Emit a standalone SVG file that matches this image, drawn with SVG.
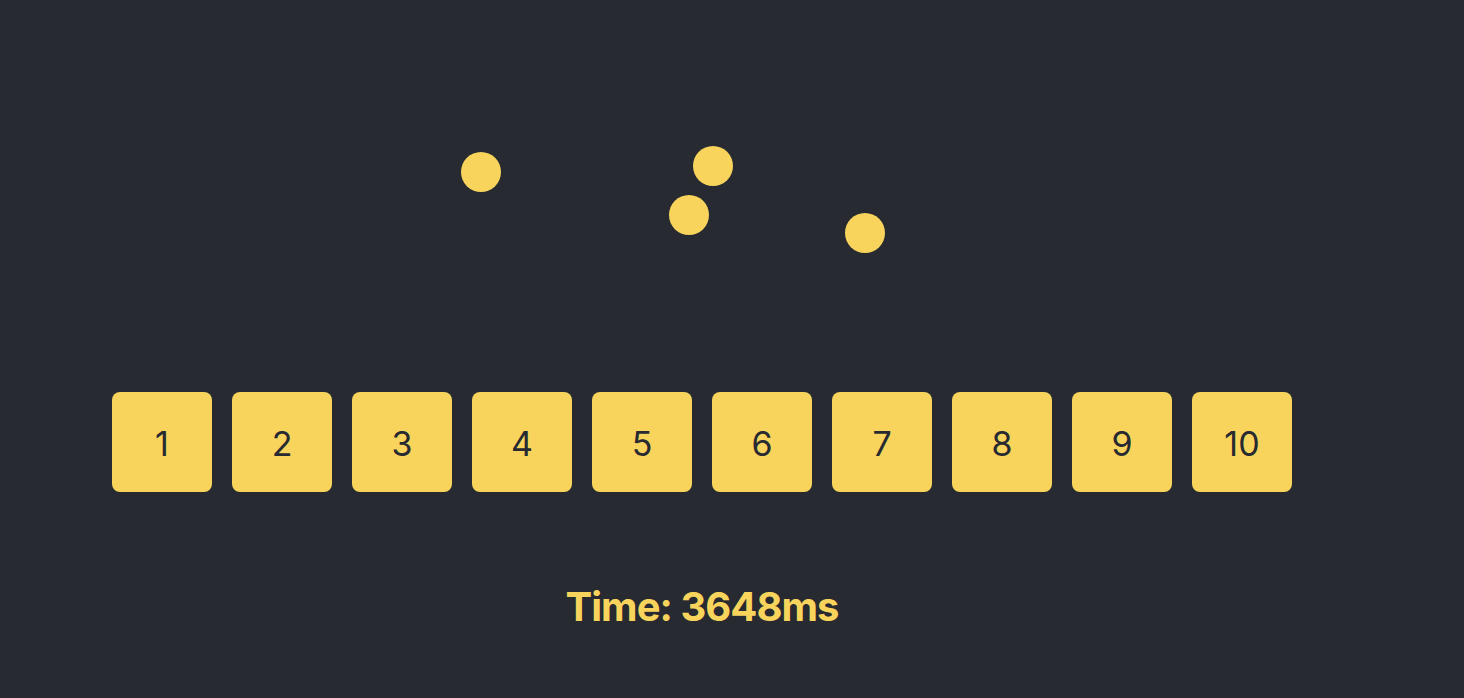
<svg xmlns="http://www.w3.org/2000/svg" width="1464" height="698" viewBox="0 0 1464 698">
<style>
.box rect{fill:#f8d45c;}
.box text{font-family:Inter,"Noto Sans",sans-serif;font-size:34px;fill:#272a30;text-anchor:middle;}
.ball{fill:#f8d45c;}
.time{font-family:Inter,"Noto Sans",sans-serif;font-size:40px;font-weight:700;fill:#f8d45c;text-anchor:middle;letter-spacing:-0.95px;}
</style>
<rect width="1464" height="698" fill="#272a30"/>
<g id="balls">
<circle class="ball" cx="481" cy="172" r="20"/>
<circle class="ball" cx="713" cy="166" r="20"/>
<circle class="ball" cx="689" cy="215" r="20"/>
<circle class="ball" cx="865" cy="233" r="20"/>
</g>
<g id="box1" class="box"><rect x="112" y="392" width="100" height="100" rx="8"/><text x="162" y="456">1</text></g>
<g id="box2" class="box"><rect x="232" y="392" width="100" height="100" rx="8"/><text x="282" y="456">2</text></g>
<g id="box3" class="box"><rect x="352" y="392" width="100" height="100" rx="8"/><text x="402" y="456">3</text></g>
<g id="box4" class="box"><rect x="472" y="392" width="100" height="100" rx="8"/><text x="522" y="456">4</text></g>
<g id="box5" class="box"><rect x="592" y="392" width="100" height="100" rx="8"/><text x="642" y="456">5</text></g>
<g id="box6" class="box"><rect x="712" y="392" width="100" height="100" rx="8"/><text x="762" y="456">6</text></g>
<g id="box7" class="box"><rect x="832" y="392" width="100" height="100" rx="8"/><text x="882" y="456">7</text></g>
<g id="box8" class="box"><rect x="952" y="392" width="100" height="100" rx="8"/><text x="1002" y="456">8</text></g>
<g id="box9" class="box"><rect x="1072" y="392" width="100" height="100" rx="8"/><text x="1122" y="456">9</text></g>
<g id="box10" class="box"><rect x="1192" y="392" width="100" height="100" rx="8"/><text x="1242" y="456">10</text></g>
<g id="connectors"/>
<text class="time" x="702" y="621">Time: 3648ms</text>
</svg>
